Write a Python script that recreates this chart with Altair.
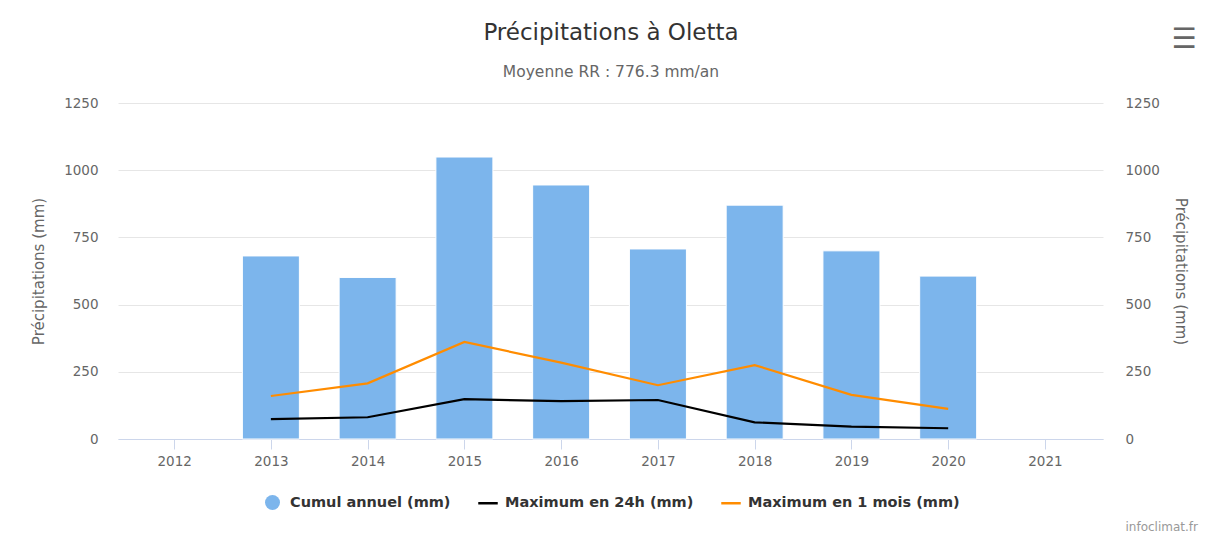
import altair as alt
import pandas as pd

years = [2013, 2014, 2015, 2016, 2017, 2018, 2019, 2020]
cumul_annuel = [681, 601, 1049, 945, 707, 870, 700, 606]
max_24h = [74, 81, 148, 141, 145, 62, 46, 40]
max_1mois = [160, 207, 361, 284, 200, 275, 164, 112]
x_ticks = list(range(2012, 2022))
y_ticks = [0, 250, 500, 750, 1000, 1250]

TITLE = "Précipitations à Oletta"
SUBTITLE = "Moyenne RR : 776.3 mm/an"
Y_TITLE = "Précipitations (mm)"
CREDIT = "infoclimat.fr"
S_CUMUL = "Cumul annuel (mm)"
S_24H = "Maximum en 24h (mm)"
S_1M = "Maximum en 1 mois (mm)"
bar_color = "#7cb5ec"
line_names = [S_24H, S_1M]
line_colors = ["#000000", "#ff8c00"]

bars_df = pd.DataFrame({"annee": years, "valeur": cumul_annuel, "serie": S_CUMUL})
lines_df = pd.concat([
    pd.DataFrame({"annee": years, "valeur": max_24h, "serie": S_24H}),
    pd.DataFrame({"annee": years, "valeur": max_1mois, "serie": S_1M}),
])

FONT = "DejaVu Sans"
x_scale = alt.Scale(domain=[2011.42, 2021.6], nice=False, zero=False, padding=0)
y_scale = alt.Scale(domain=[0, 1250], nice=False)

x_axis = alt.Axis(values=x_ticks, format="d", title=None, grid=False,
                  domainColor="#ccd6eb", tickColor="#ccd6eb", tickSize=10,
                  labelPadding=5, labelColor="#666666", labelFontSize=13.5,
                  labelFont=FONT, labelFlush=False)

def y_axis(side):
    left = side == "left"
    return alt.Axis(
        values=y_ticks, format="d", orient=side, title=Y_TITLE, ticks=False, tickSize=0,
        domain=False, grid=left, gridColor="#e6e6e6", labelPadding=20 if left else 22,
        labelColor="#666666", labelFontSize=13.5, labelFont=FONT,
        titleFont=FONT, titleFontSize=15, titleFontWeight="normal", titleColor="#666666",
        titleAngle=-90 if left else 90, titleX=-80 if left else 77, titleY=168,
        titleAlign="center", titleBaseline="middle")

legend_common = dict(title=None, orient="none", direction="horizontal",
                     labelFont=FONT, labelFontSize=14.5, labelFontWeight="bold",
                     labelColor="#333333", labelLimit=400, padding=0)

bars = alt.Chart(bars_df).mark_bar(size=57, stroke="#ffffff", strokeWidth=1).encode(
    x=alt.X("annee:Q", scale=x_scale, axis=x_axis),
    y=alt.Y("valeur:Q", scale=y_scale, axis=y_axis("left")),
    fill=alt.Fill("serie:N", scale=alt.Scale(domain=[S_CUMUL], range=[bar_color]),
                  legend=alt.Legend(symbolType="circle", symbolSize=225, symbolStrokeWidth=0,
                                    labelOffset=10, legendX=147, legendY=392, **legend_common)),
)

lines = alt.Chart(lines_df).mark_line(strokeWidth=2.2).encode(
    x=alt.X("annee:Q", scale=x_scale, axis=x_axis),
    y=alt.Y("valeur:Q", scale=y_scale, axis=y_axis("right")),
    stroke=alt.Stroke("serie:N", scale=alt.Scale(domain=line_names, range=line_colors),
                      legend=alt.Legend(symbolType="stroke", symbolSize=380, symbolStrokeWidth=2.5,
                                        labelOffset=6, columnPadding=22,
                                        legendX=359, legendY=389, **legend_common)),
)

def label(text, x, y, size, color, weight="normal", align="center", font=FONT):
    return alt.Chart(alt.Data(values=[{"t": text}])).mark_text(
        align=align, baseline="alphabetic", font=font, fontSize=size,
        color=color, fontWeight=weight
    ).encode(text="t:N", x=alt.value(x), y=alt.value(y))

title = label(TITLE, 493, -63, 23, "#333333")
subtitle = label(SUBTITLE, 493, -26, 15.5, "#666666")
credit = label(CREDIT, 1080, 428, 12, "#999999", align="right")
menu = label("☰", 1066, -55, 28, "#666666", weight="bold")

chart = alt.layer(bars, lines, title, subtitle, credit, menu).resolve_scale(
    y="independent"
).properties(
    width=985, height=336,
    autosize=alt.AutoSizeParams(type="none"),
    padding={"left": 110, "top": 95, "right": 101, "bottom": 95},
).configure_view(stroke=None)

chart.save("out.html", embed_options={"renderer": "svg", "actions": False})
